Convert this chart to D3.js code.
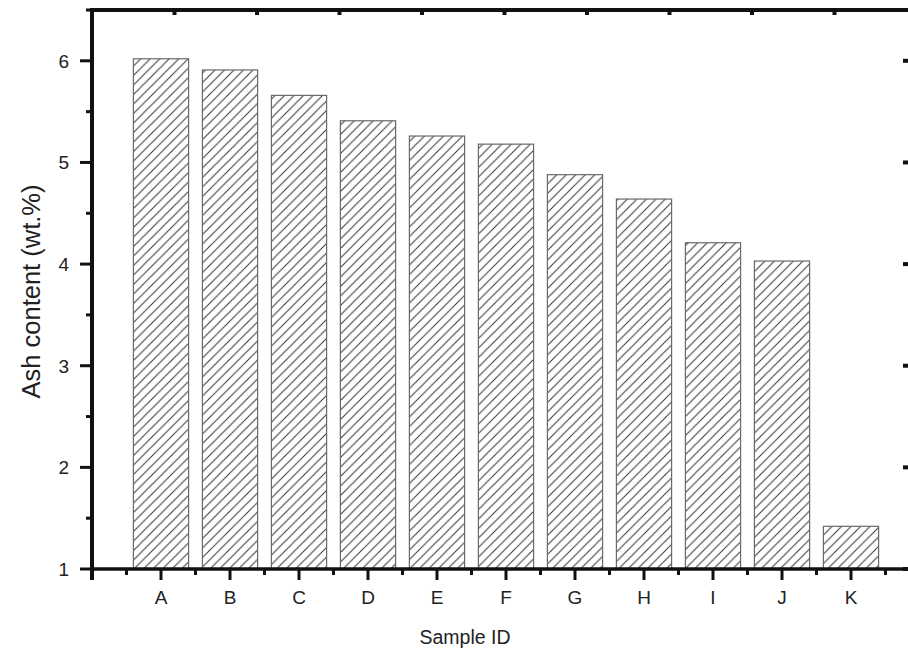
<!DOCTYPE html>
<html>
<head>
<meta charset="utf-8">
<script src="https://cdn.jsdelivr.net/npm/d3@7"></script>
<style>
  body { margin: 0; background: #fff; }
  svg { display: block; font-family: "Liberation Sans", Arial, sans-serif; }
</style>
</head>
<body>
<svg id="chart" width="908" height="655"></svg>
<script>
// data
const samples = ["A", "B", "C", "D", "E", "F", "G", "H", "I", "J", "K"];
const ashContent = [6.02, 5.91, 5.66, 5.41, 5.26, 5.18, 4.88, 4.64, 4.21, 4.03, 1.42];
const yTicks = [1, 2, 3, 4, 5, 6];

const svg = d3.select("#chart");

// plot frame (right side runs past the picture edge)
const plotLeft = 92, plotRight = 920, plotTop = 10, plotBottom = 569;

const x = d3.scaleLinear().domain([0, samples.length + 1]).range([plotLeft, plotRight]);
const y = d3.scaleLinear().domain([1, 6.5]).range([plotBottom, plotTop]);
const xTop = d3.scaleLinear().domain([0, 10]).range([plotLeft, plotLeft + 825]);

// hatch pattern "/"
const h = 9.5;
const pat = svg.append("defs").append("pattern")
  .attr("id", "hatch")
  .attr("patternUnits", "userSpaceOnUse")
  .attr("width", h)
  .attr("height", h);
pat.append("rect").attr("width", h).attr("height", h).attr("fill", "#fff");
pat.append("path")
  .attr("d", `M${-h / 2},${h / 2} L${h / 2},${-h / 2} M0,${h} L${h},0 M${h / 2},${h * 1.5} L${h * 1.5},${h / 2}`)
  .attr("stroke", "#333")
  .attr("stroke-width", 1);

// bars
const barW = (x(1) - x(0)) * 0.8;
svg.append("g")
  .selectAll("rect")
  .data(samples)
  .join("rect")
  .attr("x", (d, i) => x(i + 1) - barW / 2)
  .attr("y", (d, i) => y(ashContent[i]))
  .attr("width", barW)
  .attr("height", (d, i) => y(1) - y(ashContent[i]))
  .attr("fill", "url(#hatch)")
  .attr("stroke", "#6a6a6a")
  .attr("stroke-width", 1.2);

// bottom axis: major ticks at categories, minor in between
const bottomAxis = svg.append("g").attr("transform", `translate(0,${plotBottom})`);
const majors = d3.range(0, samples.length + 2);
bottomAxis.selectAll(".maj")
  .data(majors)
  .join("line")
  .attr("class", "maj")
  .attr("x1", d => x(d)).attr("x2", d => x(d))
  .attr("y1", 0).attr("y2", 11)
  .attr("stroke", "#111").attr("stroke-width", 3);
bottomAxis.selectAll(".min")
  .data(majors.slice(0, -1).map(d => d + 0.5))
  .join("line")
  .attr("class", "min")
  .attr("x1", d => x(d)).attr("x2", d => x(d))
  .attr("y1", 0).attr("y2", 6)
  .attr("stroke", "#111").attr("stroke-width", 3);
bottomAxis.selectAll("text")
  .data(samples)
  .join("text")
  .attr("x", (d, i) => x(i + 1))
  .attr("y", 35)
  .attr("text-anchor", "middle")
  .attr("font-size", 19)
  .attr("fill", "#222")
  .text(d => d);

// left axis
const leftAxis = svg.append("g");
leftAxis.selectAll(".maj")
  .data(yTicks)
  .join("line")
  .attr("class", "maj")
  .attr("x1", plotLeft - 12).attr("x2", plotLeft)
  .attr("y1", d => y(d)).attr("y2", d => y(d))
  .attr("stroke", "#111").attr("stroke-width", 3);
leftAxis.selectAll(".min")
  .data(yTicks.map(d => d + 0.5))
  .join("line")
  .attr("class", "min")
  .attr("x1", plotLeft - 6).attr("x2", plotLeft)
  .attr("y1", d => y(d)).attr("y2", d => y(d))
  .attr("stroke", "#111").attr("stroke-width", 3);
leftAxis.selectAll("text")
  .data(yTicks)
  .join("text")
  .attr("x", plotLeft - 23)
  .attr("y", d => y(d))
  .attr("dy", "0.36em")
  .attr("text-anchor", "end")
  .attr("font-size", 19)
  .attr("fill", "#222")
  .text(d => d);

// right axis ticks (inward)
svg.append("g").selectAll("line")
  .data(yTicks)
  .join("line")
  .attr("x1", 903).attr("x2", plotRight)
  .attr("y1", d => y(d)).attr("y2", d => y(d))
  .attr("stroke", "#111").attr("stroke-width", 4);

// top axis ticks (inward)
svg.append("g").selectAll("line")
  .data(d3.range(1, 10))
  .join("line")
  .attr("x1", d => xTop(d)).attr("x2", d => xTop(d))
  .attr("y1", plotTop).attr("y2", plotTop + 5)
  .attr("stroke", "#111").attr("stroke-width", 4);

// frame lines
svg.append("line").attr("x1", plotLeft).attr("x2", plotRight).attr("y1", plotBottom).attr("y2", plotBottom)
  .attr("stroke", "#111").attr("stroke-width", 3.5);
svg.append("line").attr("x1", plotLeft).attr("x2", plotLeft).attr("y1", plotTop - 2).attr("y2", plotBottom + 11)
  .attr("stroke", "#111").attr("stroke-width", 4);
svg.append("line").attr("x1", plotLeft - 2).attr("x2", plotRight).attr("y1", plotTop).attr("y2", plotTop)
  .attr("stroke", "#111").attr("stroke-width", 4);

// axis titles
svg.append("text")
  .attr("transform", `translate(40,${(plotTop + plotBottom) / 2 + 2}) rotate(-90)`)
  .attr("text-anchor", "middle")
  .attr("font-size", 25.5)
  .attr("fill", "#222")
  .text("Ash content (wt.%)");
svg.append("text")
  .attr("x", 465)
  .attr("y", 644)
  .attr("text-anchor", "middle")
  .attr("font-size", 19.5)
  .attr("fill", "#222")
  .text("Sample ID");
</script>
</body>
</html>
